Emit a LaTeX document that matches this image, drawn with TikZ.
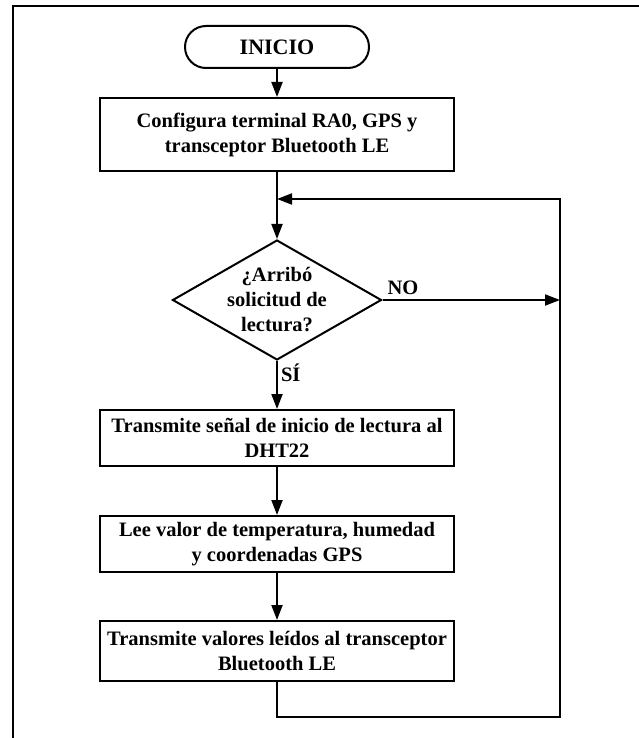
\documentclass[tikz,border=0pt]{standalone}
\usepackage{fontspec}
\setmainfont{Liberation Serif}
\usetikzlibrary{shapes.geometric,arrows.meta}
\begin{document}
\begin{tikzpicture}[x=1pt,y=-1pt,line width=2pt,font=\fontsize{20.5}{25}\selectfont\bfseries,
	terminal/.style={draw=black,rectangle,rounded corners=21pt,minimum width=184pt,minimum height=42pt,font=\fontsize{22}{26}\selectfont\bfseries},
	caja/.style={draw=black,rectangle,align=center,minimum width=354pt,inner sep=0pt},
	decision/.style={draw=black,diamond,align=center,minimum width=209pt,minimum height=120pt,inner sep=-15pt},
	flecha/.style={-{Triangle[length=15pt,width=11pt]}}]

			\useasboundingbox (0,0) rectangle (639,738);
			\draw (13,738) -- (13,6) -- (639,6);

			\node[terminal] (n1) at (277,47) {INICIO};
			\node[caja,minimum height=73pt] (n2) at (277,134.5) {Configura terminal RA0, GPS y\\transceptor Bluetooth LE};
			\node[decision] (n3) at (277,300) {¿Arribó\\solicitud de\\lectura?};
			\node[caja,minimum height=56pt] (n4) at (277,438) {Transmite señal de inicio de lectura al\\DHT22};
			\node[caja,minimum height=56pt] (n5) at (277,544) {Lee valor de temperatura, humedad\\y coordenadas GPS};
			\node[caja,minimum height=60pt] (n6) at (277,651) {Transmite valores leídos al transceptor\\Bluetooth LE};

			\coordinate (c1) at (560,717);
			\coordinate (c2) at (277,199);

			\draw[flecha] (n1) -- (n2);
			\draw[flecha] (n2) -- (n3);
			\draw[flecha] (n3.east) -- (n3.east -| c1) node[pos=0,anchor=south west,inner sep=4pt] (no) {NO};
			\draw[flecha] (n3) -- (n4) node[pos=0.25,right,inner sep=3pt] (si) {SÍ};
			\draw[flecha] (n4) -- (n5);
			\draw[flecha] (n5) -- (n6);
			\draw[flecha] (n6.south) |- (c1) |- (c2);
		\end{tikzpicture}
\end{document}
